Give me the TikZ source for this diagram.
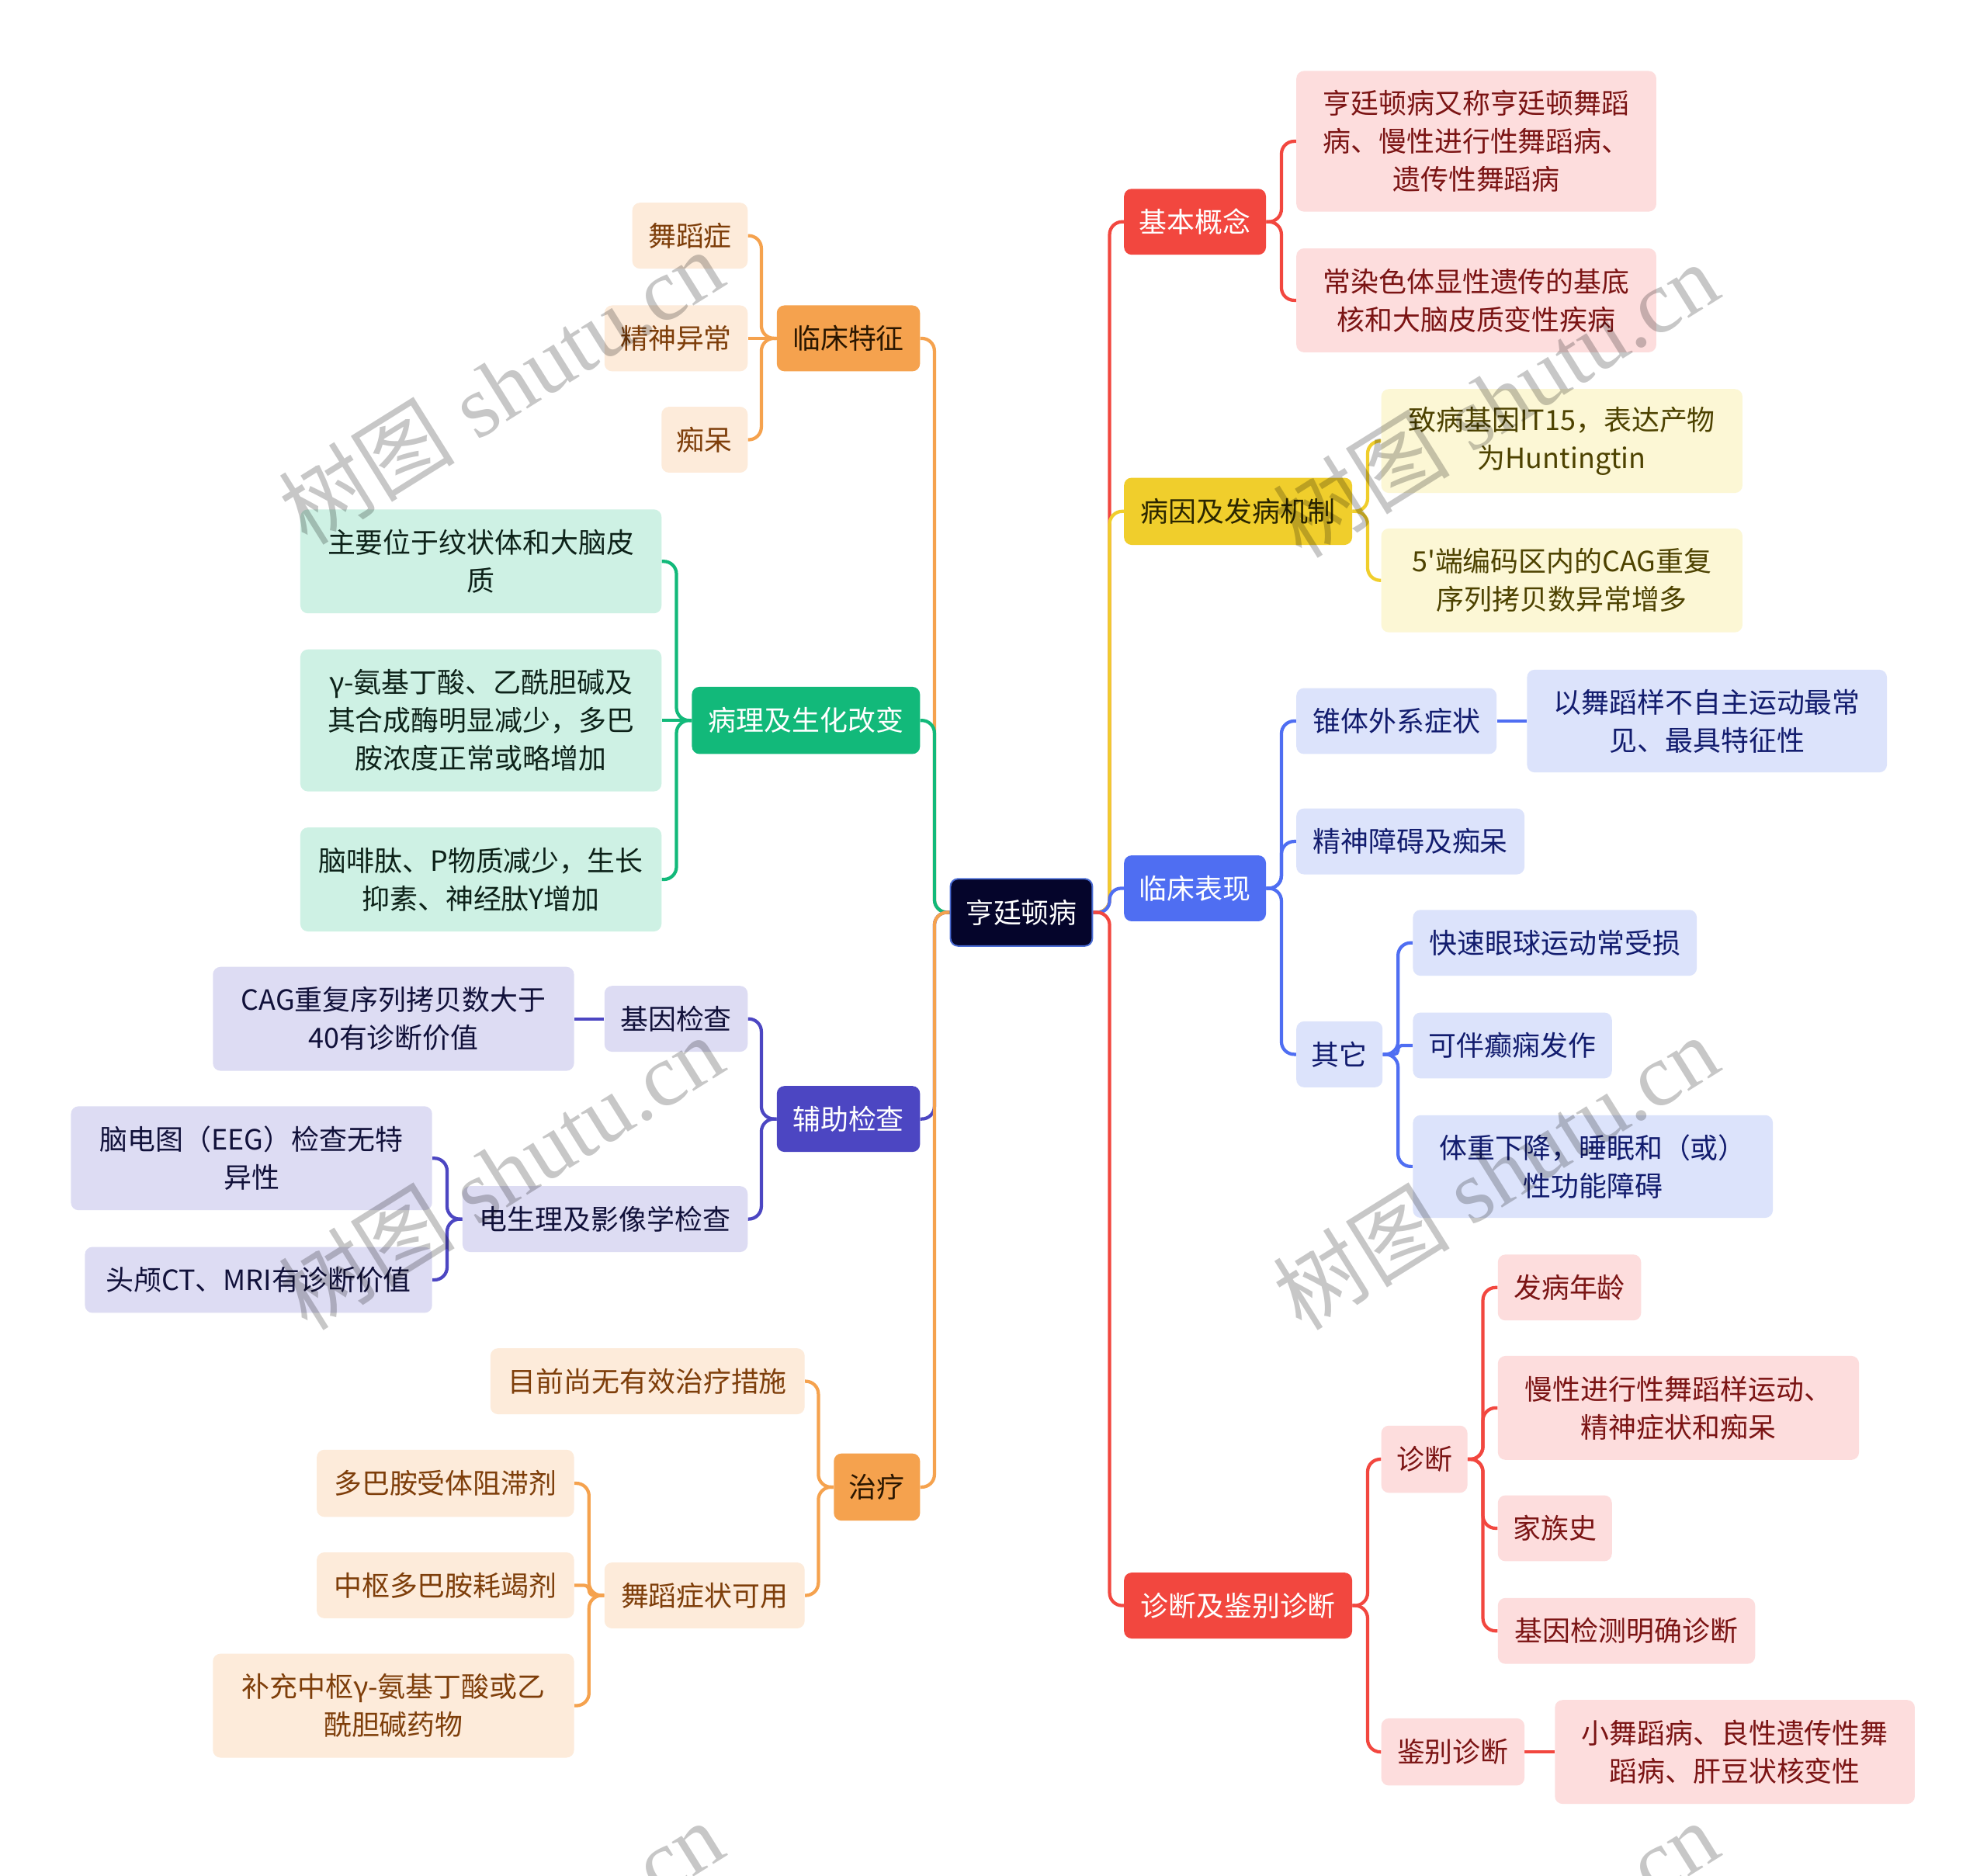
\documentclass[tikz,border=0pt]{standalone}
\usepackage{fontspec}
\usetikzlibrary{backgrounds}
\newfontfamily\cjk{Noto Sans CJK SC}[Ligatures=TeXOff]
\newfontfamily\wmserif{Liberation Serif}
\definecolor{cRed}{HTML}{F2473F}
\definecolor{cPinkF}{HTML}{FDDDDD}
\definecolor{cPinkT}{HTML}{7B1414}
\definecolor{cYel}{HTML}{F0CE2C}
\definecolor{cYelMT}{HTML}{2B2600}
\definecolor{cYelF}{HTML}{FCF7D5}
\definecolor{cYelT}{HTML}{4D4200}
\definecolor{cBlue}{HTML}{4F6EF2}
\definecolor{cBlueF}{HTML}{DCE3FB}
\definecolor{cBlueT}{HTML}{121C6E}
\definecolor{cOr}{HTML}{F5A24E}
\definecolor{cOrMT}{HTML}{2A1600}
\definecolor{cOrF}{HTML}{FDEBDA}
\definecolor{cOrT}{HTML}{7E3E0A}
\definecolor{cGr}{HTML}{12B97A}
\definecolor{cGrF}{HTML}{CEF1E4}
\definecolor{cGrT}{HTML}{0D2219}
\definecolor{cInd}{HTML}{4C46C2}
\definecolor{cIndF}{HTML}{DDDCF3}
\definecolor{cIndT}{HTML}{11113A}
\definecolor{cRoot}{HTML}{05052B}
\definecolor{cRootB}{HTML}{4A6CD4}
\begin{document}
\begin{tikzpicture}[x=1pt,y=-1pt,
  bx/.style={rounded corners=6pt, inner sep=0pt, align=center, font=\cjk\fontsize{22}{30}\selectfont},
  sz/.style 2 args={minimum width=#1pt, minimum height=#2pt},
  redM/.style={bx, fill=cRed, text=white},
  pinkC/.style={bx, fill=cPinkF, text=cPinkT},
  yelM/.style={bx, fill=cYel, text=cYelMT},
  yelC/.style={bx, fill=cYelF, text=cYelT},
  blueM/.style={bx, fill=cBlue, text=white},
  blueC/.style={bx, fill=cBlueF, text=cBlueT},
  orM/.style={bx, fill=cOr, text=cOrMT},
  orC/.style={bx, fill=cOrF, text=cOrT},
  grM/.style={bx, fill=cGr, text=white},
  grC/.style={bx, fill=cGrF, text=cGrT},
  inM/.style={bx, fill=cInd, text=white},
  inC/.style={bx, fill=cIndF, text=cIndT},
  lk/.style={draw=#1, line width=2.6pt, rounded corners=10pt},
  wm/.style={font=\wmserif\fontsize{70}{70}\selectfont, text=black, text opacity=0.22, rotate=32, inner sep=0pt}
]
\useasboundingbox (0,0) rectangle (1568,1480);
\clip (0,0) rectangle (1568,1480);

% root
\node[bx, fill=cRoot, draw=cRootB, line width=1.2pt, text=white, sz={112}{53}] (root) at (806,720) {亨廷顿病};

% right side
\node[redM, sz={112}{52}] (b1) at (943,175) {基本概念};
\node[pinkC, sz={284}{111}] (b1a) at (1165,111.5) {亨廷顿病又称亨廷顿舞蹈\\病、慢性进行性舞蹈病、\\遗传性舞蹈病};
\node[pinkC, sz={284}{82}] (b1b) at (1165,237) {常染色体显性遗传的基底\\核和大脑皮质变性疾病};
\node[yelM, sz={180}{53}] (b2) at (977,403.5) {病因及发病机制};
\node[yelC, sz={285}{82}] (b2a) at (1232.5,348) {致病基因IT15，表达产物\\为Huntingtin};
\node[yelC, sz={285}{82}] (b2b) at (1232.5,458) {5'端编码区内的CAG重复\\序列拷贝数异常增多};
\node[blueM, sz={112}{52}] (b3) at (943,701) {临床表现};
\node[blueC, sz={158}{52}] (b3a) at (1102,569) {锥体外系症状};
\node[blueC, sz={284}{81}] (b3a1) at (1347,569) {以舞蹈样不自主运动最常\\见、最具特征性};
\node[blueC, sz={180}{52}] (b3b) at (1113,664) {精神障碍及痴呆};
\node[blueC, sz={68}{52}] (b3c) at (1057,832) {其它};
\node[blueC, sz={224}{52}] (b3c1) at (1227,744) {快速眼球运动常受损};
\node[blueC, sz={157}{52}] (b3c2) at (1193.5,825) {可伴癫痫发作};
\node[blueC, sz={284}{81}] (b3c3) at (1257,920.5) {体重下降，睡眠和（或）\\性功能障碍};
\node[redM, sz={180}{52}] (b4) at (977,1267) {诊断及鉴别诊断};
\node[pinkC, sz={68}{53}] (b4a) at (1124,1151.5) {诊断};
\node[pinkC, sz={113}{52}] (b4a1) at (1238.5,1016) {发病年龄};
\node[pinkC, sz={285}{82}] (b4a2) at (1324.5,1111) {慢性进行性舞蹈样运动、\\精神症状和痴呆};
\node[pinkC, sz={90}{52}] (b4a3) at (1227,1206) {家族史};
\node[pinkC, sz={203}{52}] (b4a4) at (1283.5,1287) {基因检测明确诊断};
\node[pinkC, sz={113}{53}] (b4b) at (1146.5,1382.5) {鉴别诊断};
\node[pinkC, sz={284}{82}] (b4b1) at (1369,1382.5) {小舞蹈病、良性遗传性舞\\蹈病、肝豆状核变性};

% left side
\node[orM, sz={113}{52}] (c1) at (669.5,267) {临床特征};
\node[orC, sz={91}{52}] (c1a) at (544.5,186) {舞蹈症};
\node[orC, sz={113}{52}] (c1b) at (533.5,267) {精神异常};
\node[orC, sz={68}{52}] (c1c) at (556,347) {痴呆};
\node[grM, sz={180}{53}] (c2) at (636,568.5) {病理及生化改变};
\node[grC, sz={285}{82}] (c2a) at (379.5,443) {主要位于纹状体和大脑皮\\质};
\node[grC, sz={285}{112}] (c2b) at (379.5,568.5) {γ-氨基丁酸、乙酰胆碱及\\其合成酶明显减少，多巴\\胺浓度正常或略增加};
\node[grC, sz={285}{82}] (c2c) at (379.5,694) {脑啡肽、P物质减少，生长\\抑素、神经肽Y增加};
\node[inM, sz={113}{52}] (c3) at (669.5,883) {辅助检查};
\node[inC, sz={113}{52}] (c3a) at (533.5,804) {基因检查};
\node[inC, sz={285}{82}] (c3a1) at (310.5,804) {CAG重复序列拷贝数大于\\40有诊断价值};
\node[inC, sz={225}{52}] (c3b) at (477.5,962) {电生理及影像学检查};
\node[inC, sz={285}{82}] (c3b1) at (198.5,914) {脑电图（EEG）检查无特\\异性};
\node[inC, sz={274}{52}] (c3b2) at (204,1010) {头颅CT、MRI有诊断价值};
\node[orM, sz={68}{53}] (c4) at (692,1173.5) {治疗};
\node[orC, sz={248}{52}] (c4a) at (511,1090) {目前尚无有效治疗措施};
\node[orC, sz={158}{52}] (c4b) at (556,1259) {舞蹈症状可用};
\node[orC, sz={203}{53}] (c4b1) at (351.5,1170.5) {多巴胺受体阻滞剂};
\node[orC, sz={203}{52}] (c4b2) at (351.5,1251) {中枢多巴胺耗竭剂};
\node[orC, sz={285}{82}] (c4b3) at (310.5,1346) {补充中枢γ-氨基丁酸或乙\\酰胆碱药物};

\begin{scope}[on background layer]
\fill[white] (0,0) rectangle (1568,1480);
% left main branches
\draw[lk=cOr] (root.west) -- ++(-12,0) |- (c1.east);
\draw[lk=cGr] (root.west) -- ++(-12,0) |- (c2.east);
\draw[lk=cInd] (root.west) -- ++(-12,0) |- (c3.east);
\draw[lk=cOr] (root.west) -- ++(-12,0) |- (c4.east);
% right main branches
\draw[lk=cRed] (root.east) -- ++(13,0) |- (b1.west);
\draw[lk=cYel] (root.east) -- ++(13,0) |- (b2.west);
\draw[lk=cBlue, rounded corners=9pt] (root.east) -- ++(13,0) |- (b3.west);
\draw[lk=cRed] (root.east) -- ++(13,0) |- (b4.west);
% right sub
\draw[lk=cRed] (b1.east) -- ++(12,0) |- (b1a.west);
\draw[lk=cRed] (b1.east) -- ++(12,0) |- (b1b.west);
\draw[lk=cYel] (b2.east) -- ++(12,0) |- (b2a.west);
\draw[lk=cYel] (b2.east) -- ++(12,0) |- (b2b.west);
\draw[lk=cBlue] (b3.east) -- ++(12,0) |- (b3a.west);
\draw[lk=cBlue] (b3.east) -- ++(12,0) |- (b3b.west);
\draw[lk=cBlue] (b3.east) -- ++(12,0) |- (b3c.west);
\draw[lk=cBlue] (b3a.east) -- (b3a1.west);
\draw[lk=cBlue] (b3c.east) -- ++(12,0) |- (b3c1.west);
\draw[lk=cBlue, rounded corners=3pt] (b3c.east) -- ++(12,0) |- (b3c2.west);
\draw[lk=cBlue] (b3c.east) -- ++(12,0) |- (b3c3.west);
\draw[lk=cRed] (b4.east) -- ++(12,0) |- (b4a.west);
\draw[lk=cRed] (b4.east) -- ++(12,0) |- (b4b.west);
\draw[lk=cRed] (b4a.east) -- ++(12,0) |- (b4a1.west);
\draw[lk=cRed] (b4a.east) -- ++(12,0) |- (b4a2.west);
\draw[lk=cRed] (b4a.east) -- ++(12,0) |- (b4a3.west);
\draw[lk=cRed] (b4a.east) -- ++(12,0) |- (b4a4.west);
\draw[lk=cRed] (b4b.east) -- (b4b1.west);
% left sub
\draw[lk=cOr] (c1.west) -- ++(-12,0) |- (c1a.east);
\draw[lk=cOr] (c1.west) -- (c1b.east);
\draw[lk=cOr] (c1.west) -- ++(-12,0) |- (c1c.east);
\draw[lk=cGr] (c2.west) -- ++(-12,0) |- (c2a.east);
\draw[lk=cGr] (c2.west) -- (c2b.east);
\draw[lk=cGr] (c2.west) -- ++(-12,0) |- (c2c.east);
\draw[lk=cInd] (c3.west) -- ++(-12,0) |- (c3a.east);
\draw[lk=cInd] (c3.west) -- ++(-12,0) |- (c3b.east);
\draw[lk=cInd] (c3a.west) -- (c3a1.east);
\draw[lk=cInd] (c3b.west) -- ++(-12,0) |- (c3b1.east);
\draw[lk=cInd] (c3b.west) -- ++(-12,0) |- (c3b2.east);
\draw[lk=cOr] (c4.west) -- ++(-12,0) |- (c4a.east);
\draw[lk=cOr] (c4.west) -- ++(-12,0) |- (c4b.east);
\draw[lk=cOr] (c4b.west) -- ++(-12,0) |- (c4b1.east);
\draw[lk=cOr, rounded corners=4pt] (c4b.west) -- ++(-12,0) |- (c4b2.east);
\draw[lk=cOr] (c4b.west) -- ++(-12,0) |- (c4b3.east);
\end{scope}

% watermarks
\node[wm] (w1) at (395,305) {{\cjk 树图} shutu.cn};
\node[wm] (w2) at (1180,315) {{\cjk 树图} shutu.cn};
\node[wm] (w3) at (395,925) {{\cjk 树图} shutu.cn};
\node[wm] (w4) at (1180,925) {{\cjk 树图} shutu.cn};
\node[wm] (w5) at (395,1545) {{\cjk 树图} shutu.cn};
\node[wm] (w6) at (1180,1545) {{\cjk 树图} shutu.cn};
\end{tikzpicture}
\end{document}
